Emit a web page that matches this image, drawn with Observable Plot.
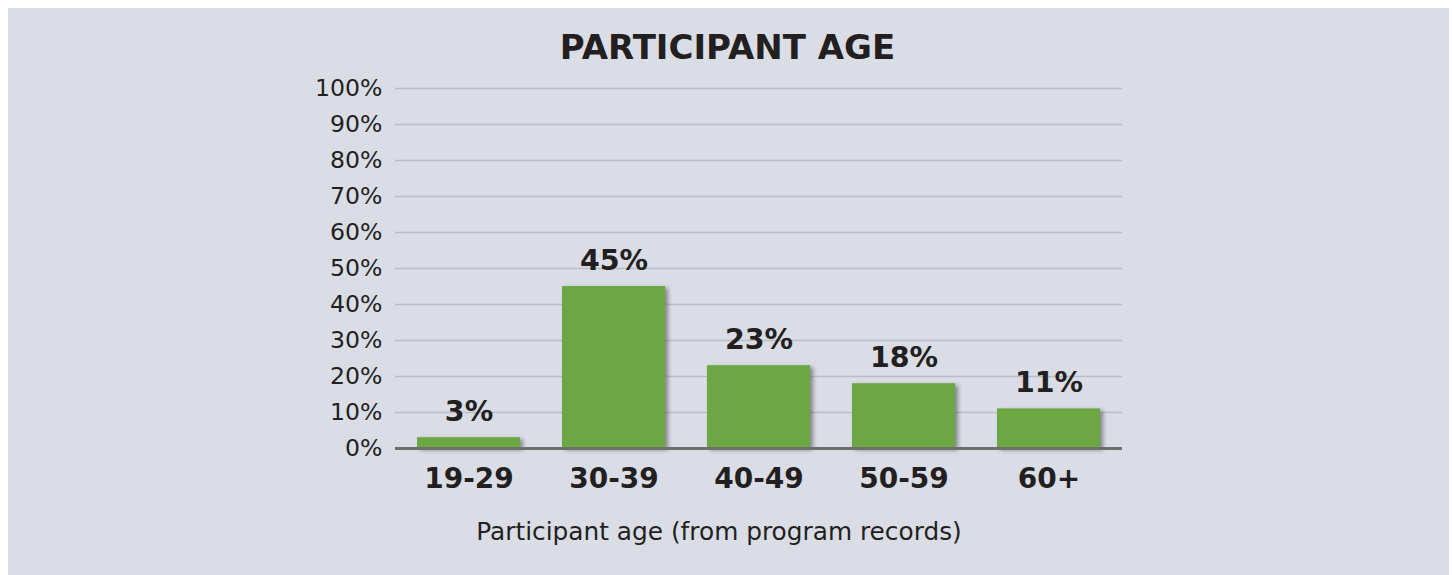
<!DOCTYPE html>
<html>
<head>
<meta charset="utf-8">
<script src="https://cdn.jsdelivr.net/npm/d3@7"></script>
<script src="https://cdn.jsdelivr.net/npm/@observablehq/plot@0.6"></script>
<style>
  html, body { margin: 0; padding: 0; background: #ffffff; }
  body { width: 1452px; height: 575px; position: relative; overflow: hidden; font-family: "DejaVu Sans", Verdana, sans-serif; }
  #panel { position: absolute; left: 8px; top: 8px; width: 1441px; height: 567px; background: #dadde6; color: #231f20; }
  #title { position: absolute; top: 22px; left: 719.5px; transform: translateX(-50%); white-space: nowrap;
           font-size: 34px; line-height: 34px; font-weight: bold; margin: 0; }
  #chart { position: absolute; left: 0; top: 62px; }
  #caption { position: absolute; top: 511px; left: 711px; transform: translateX(-50%); white-space: nowrap;
             font-size: 24.8px; line-height: 25px; }
</style>
</head>
<body>
<div id="panel">
  <div id="title">PARTICIPANT AGE</div>
  <div id="chart"></div>
  <div id="caption">Participant age (from program records)</div>
</div>
<script>
const ageGroups = ["19-29", "30-39", "40-49", "50-59", "60+"];
const percentages = [3, 45, 23, 18, 11];
const yTicks = [0, 10, 20, 30, 40, 50, 60, 70, 80, 90, 100];

const data = ageGroups.map((age, i) => ({age, pct: percentages[i]}));

const plot = Plot.plot({
  width: 1441,
  height: 430,
  marginLeft: 387,
  marginRight: 327,
  marginTop: 18,
  marginBottom: 52,
  style: {background: "transparent", color: "#231f20", fontFamily: "'DejaVu Sans', Verdana, sans-serif", overflow: "visible"},
  x: {domain: ageGroups, paddingInner: 0.288, paddingOuter: 0.134, label: null},
  y: {domain: [0, 100], label: null},
  marks: [
    Plot.gridY(yTicks, {stroke: "#bcbec4", strokeOpacity: 1, strokeWidth: 1.5}),
    Plot.axisY(yTicks, {tickSize: 0, tickPadding: 13, fontSize: 23.6, tickFormat: d => d + "%", label: null}),
    Plot.axisX({tickSize: 0, tickPadding: 20, fontSize: 28, fontWeight: "bold", label: null}),
    Plot.barY(data, {x: "age", y: "pct", fill: "#6ca744"}),
    Plot.ruleY([0], {stroke: "#6f6f70", strokeWidth: 3}),
    Plot.text(data, {x: "age", y: "pct", text: d => d.pct + "%", fontSize: 28.5, fontWeight: "bold", fill: "#231f20", lineAnchor: "middle", dy: -26})
  ]
});

const barG = plot.querySelector('g[aria-label="bar"]');
if (barG) barG.style.filter = "drop-shadow(3px 2px 2px rgba(0,0,0,0.4))";

document.getElementById("chart").appendChild(plot);
</script>
</body>
</html>
